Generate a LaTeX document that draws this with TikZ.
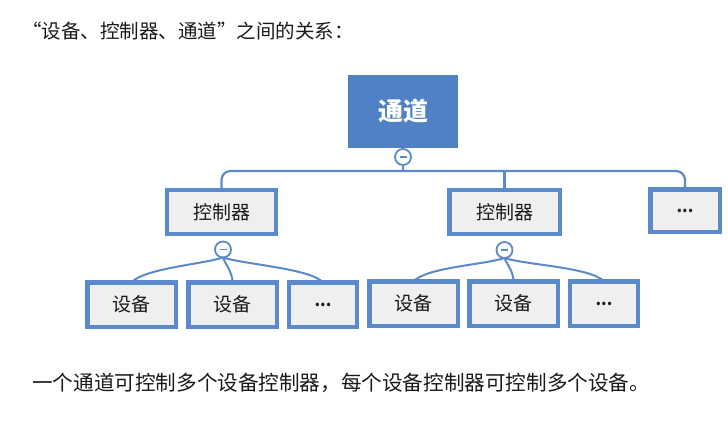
\documentclass[tikz,border=0pt]{standalone}
\usepackage{fontspec}
\setmainfont{Noto Sans CJK SC}
\definecolor{topblue}{HTML}{4F81C4}
\definecolor{boxblue}{HTML}{5A8ACB}
\definecolor{lineblue}{HTML}{5B8AC9}
\definecolor{boxgray}{HTML}{EFEFEF}
\definecolor{txt}{HTML}{1A1A1A}
\begin{document}
\begin{tikzpicture}[x=1pt,y=-1pt,
  box/.style={draw=boxblue,line width=4.5pt,fill=boxgray,inner sep=0pt,outer sep=0pt,
    text=txt,font=\fontsize{19}{19}\selectfont},
  topbox/.style={fill=topblue,inner sep=0pt,outer sep=0pt,text=white,
    font=\fontsize{25}{25}\selectfont\bfseries,minimum width=110pt,minimum height=73pt},
  dev/.style={box,minimum width=88.5pt,minimum height=44.5pt},
  more/.style={box,minimum width=68pt,minimum height=44.5pt,font=\fontsize{16}{16}\selectfont\bfseries},
  ctl/.style={box,minimum width=109pt,minimum height=44pt},
  knob/.style={circle,draw=lineblue,line width=1.8pt,fill=white,minimum size=16pt,inner sep=0pt,outer sep=0pt,
    path picture={\draw[boxblue,line width=1.5pt]([xshift=-3.5pt]path picture bounding box.center)--([xshift=3.5pt]path picture bounding box.center);}},
  conn/.style={draw=lineblue,line width=2.2pt}]
\useasboundingbox (0,0) rectangle (728,428);
% texts
\node[anchor=west,text=txt,font=\fontsize{19.5}{19.5}\selectfont,inner sep=0pt] (title) at (22,31) {“设备、控制器、通道”之间的关系：};
\node[anchor=west,text=txt,font=\fontsize{20.6}{20.6}\selectfont,inner sep=0pt] (note) at (32,383) {一个通道可控制多个设备控制器，每个设备控制器可控制多个设备。};
% nodes
\node[topbox] (ch) at (403,111.5) {通道};
\node[knob] (c0) at (403,157) {};
\coordinate (j0) at (403,171);
\node[ctl] (k1) at (221.5,212) {控制器};
\node[ctl,minimum width=110.5pt] (k2) at (504.5,212) {控制器};
\node[more,minimum width=69.5pt,minimum height=42.5pt] (e) at (685,210.5) {...};
\node[knob] (c1) at (223,249.5) {};
\node[knob] (c2) at (504.5,250) {};
\node[dev] (d1) at (131.5,304.5) {设备};
\node[dev] (d2) at (232.5,304.5) {设备};
\node[more] (d3) at (323,304.5) {...};
\node[dev] (d4) at (413.5,303.5) {设备};
\node[dev] (d5) at (513.5,303.5) {设备};
\node[more] (d6) at (604,303.5) {...};
% top connectors
\draw[conn] (c0.south) -- (j0);
\draw[conn,rounded corners=9pt] (k1.north) -- (k1.north |- j0) -- (e.north |- j0) -- (e.north);
\draw[conn] (k2.north |- j0) -- (k2.north);
% group connectors
\foreach \c/\a/\b/\d in {c1/d1/d2/d3,c2/d4/d5/d6}{
  \draw[conn,line width=2pt] (\c.south) .. controls +(-22,7) and +(14,-14) .. (\a.north);
  \draw[conn,line width=2pt] (\c.south) .. controls +(2,6) and +(0,-10) .. (\b.north);
  \draw[conn,line width=2pt] (\c.south) .. controls +(22,7) and +(-14,-14) .. (\d.north);
}
\end{tikzpicture}
\end{document}
